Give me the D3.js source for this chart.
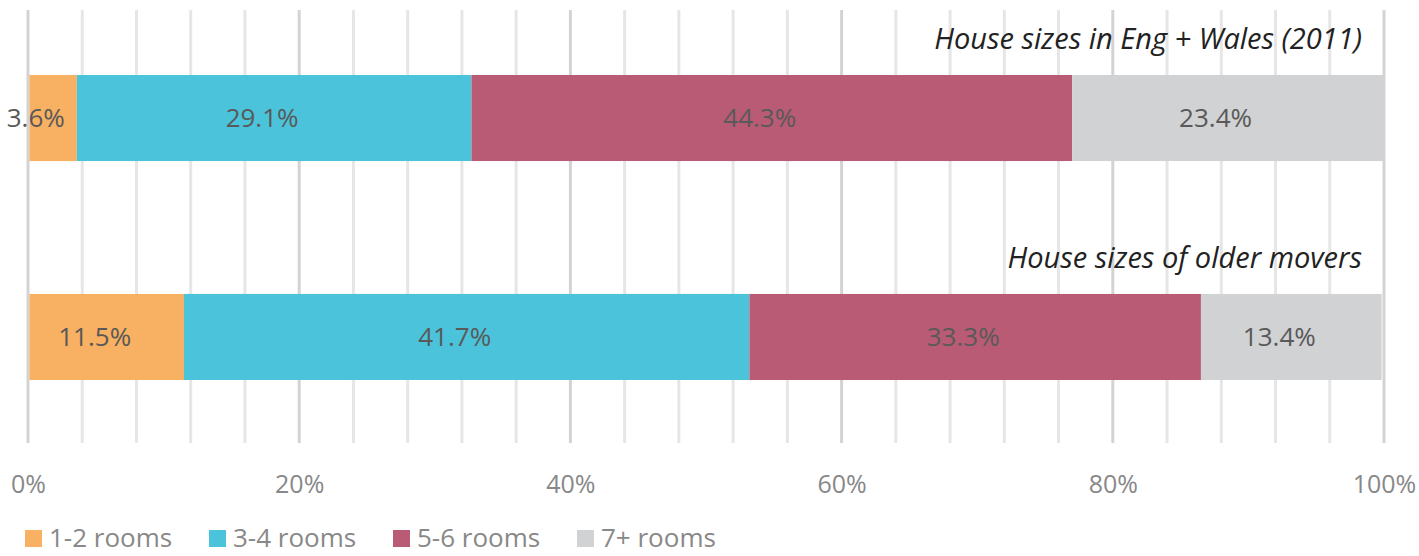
<!DOCTYPE html>
<html>
<head>
<meta charset="utf-8">
<script src="https://d3js.org/d3.v7.min.js"></script>
<style>
  body { margin: 0; background: #fff; }
  svg { display: block; font-family: "Open Sans", sans-serif; }
</style>
</head>
<body>
<svg width="1419" height="556"></svg>
<script>
// data
const categories = ['1-2 rooms', '3-4 rooms', '5-6 rooms', '7+ rooms'];
const groups = ['House sizes in Eng + Wales (2011)', 'House sizes of older movers'];
const engWales = [3.6, 29.1, 44.3, 23.4];
const olderMovers = [11.5, 41.7, 33.3, 13.4];
const tickValues = [0, 20, 40, 60, 80, 100];
const colors = ['#F8B062', '#4BC4DB', '#B95B74', '#D1D2D4'];

const svg = d3.select('svg');
const x = d3.scaleLinear().domain([0, 100]).range([28, 1384]).clamp(true);
const y = d3.scaleBand().domain(groups).range([75, 380]).paddingInner(0.607).paddingOuter(0);

// gridlines every 4%, darker every 20%
svg.append('g').selectAll('line')
  .data(d3.range(0, 101, 4))
  .join('line')
  .attr('x1', d => x(d)).attr('x2', d => x(d))
  .attr('y1', 10).attr('y2', 443)
  .attr('stroke', d => d % 20 === 0 ? '#d3d3d3' : '#e6e6e6')
  .attr('stroke-width', 3);

const rows = [engWales, olderMovers].map((vals, i) => {
  let c = 0;
  return vals.map((v, j) => {
    const seg = {group: groups[i], cat: categories[j], v, x0: c, x1: c + v, j};
    c += v;
    return seg;
  });
});

const segs = rows.flat();
const left = d => x(d.x0) + (d.j === 0 ? 1.5 : 0);
const right = d => x(d.x1) - (d.j === categories.length - 1 ? 1 : 0);

const bars = svg.append('g');
bars.selectAll('rect')
  .data(segs)
  .join('rect')
  .attr('x', left)
  .attr('width', d => Math.max(0, right(d) - left(d)))
  .attr('y', d => y(d.group))
  .attr('height', y.bandwidth())
  .attr('fill', d => colors[d.j]);

bars.selectAll('text')
  .data(segs)
  .join('text')
  .attr('x', d => {
    const w = right(d) - left(d);
    return w < 70 ? right(d) - 12 : (left(d) + right(d)) / 2 - 12;
  })
  .attr('text-anchor', d => (right(d) - left(d)) < 70 ? 'end' : 'middle')
  .attr('y', d => y(d.group) + y.bandwidth() / 2)
  .attr('dy', '0.35em')
  .attr('font-size', 26)
  .attr('fill', '#595959')
  .text(d => d.v.toFixed(1) + '%');

// group titles
svg.append('g').selectAll('text')
  .data(groups)
  .join('text')
  .attr('x', 1362)
  .attr('y', d => y(d) - 26)
  .attr('text-anchor', 'end')
  .attr('font-style', 'italic')
  .attr('font-size', 29)
  .attr('fill', '#222')
  .text(d => d);

// x axis
const axis = svg.append('g')
  .attr('transform', 'translate(0,472)')
  .call(d3.axisBottom(x).tickValues(tickValues).tickFormat(d => d + '%').tickSize(0));
axis.select('.domain').remove();
axis.selectAll('text')
  .attr('font-family', '"Open Sans", sans-serif')
  .attr('font-size', 25)
  .attr('fill', '#888');

// legend
const legend = svg.append('g').attr('transform', 'translate(25,530)');
const item = legend.selectAll('g')
  .data(categories)
  .join('g')
  .attr('transform', (d, i) => `translate(${i * 184},0)`);
item.append('rect')
  .attr('width', 17).attr('height', 17)
  .attr('fill', (d, i) => colors[i]);
item.append('text')
  .attr('x', 24).attr('y', 17)
  .attr('font-size', 26)
  .attr('fill', '#888')
  .text(d => d);
</script>
</body>
</html>
